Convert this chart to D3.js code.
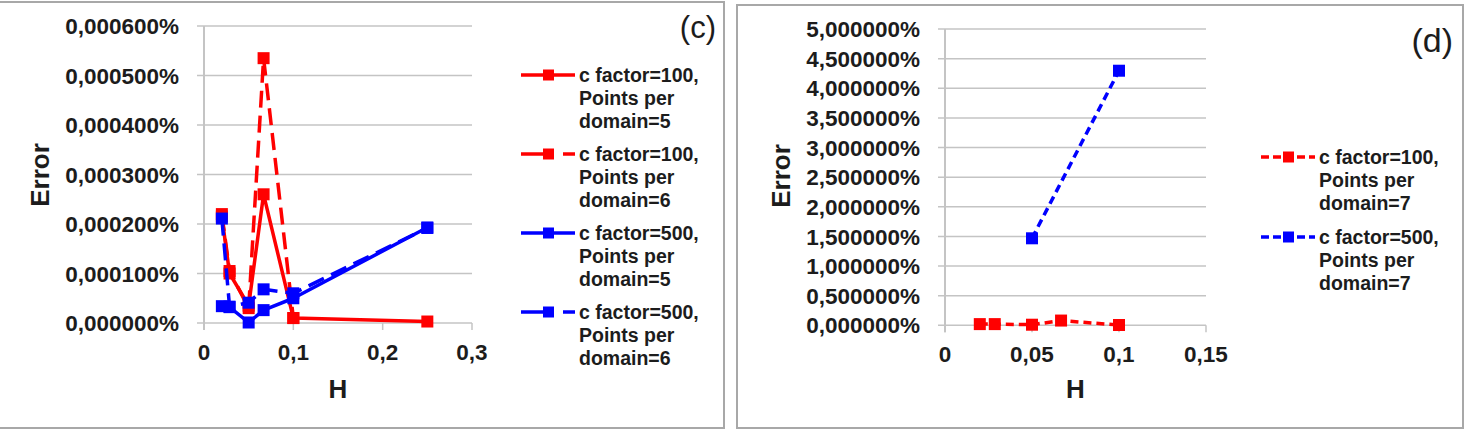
<!DOCTYPE html>
<html>
<head>
<meta charset="utf-8">
<script src="https://cdn.jsdelivr.net/npm/d3@7"></script>
<style>
  html, body { margin: 0; padding: 0; background: #fff; }
  svg { display: block; font-family: "Liberation Sans", Arial, sans-serif; }
</style>
</head>
<body>
<svg id="chart" width="1472" height="430"></svg>
<script>
// Panel (c): H values and error (%) per series
const hC = [0.02, 0.0286, 0.05, 0.0667, 0.1, 0.25];
const c100p5 = [0.000215, 0.0001, 0.000035, 0.00026, 0.00001, 0.000003];
const c100p6 = [0.00022, 0.000105, 0.00003, 0.000535, 0.00001, null];
const c500p5 = [0.000034, 0.000032, 0.000001, 0.000026, 0.00005, 0.000193];
const c500p6 = [0.000211, 0.000033, 0.000041, 0.000068, 0.00006, 0.000192];

// Panel (d)
const hD = [0.02, 0.0286, 0.05, 0.0667, 0.1];
const c100p7 = [0.02, 0.02, 0.01, 0.08, 0.005];
const c500p7 = [null, null, 1.468, null, 4.296];

// ticks
const cXTicks = [0, 0.1, 0.2, 0.3];
const cYTicks = [0, 0.0001, 0.0002, 0.0003, 0.0004, 0.0005, 0.0006];
const dXTicks = [0, 0.05, 0.1, 0.15];
const dYTicks = [0, 0.5, 1, 1.5, 2, 2.5, 3, 3.5, 4, 4.5, 5];

const legendC = [
  ["c factor=100,", "Points per", "domain=5"],
  ["c factor=100,", "Points per", "domain=6"],
  ["c factor=500,", "Points per", "domain=5"],
  ["c factor=500,", "Points per", "domain=6"]
];
const legendD = [
  ["c factor=100,", "Points per", "domain=7"],
  ["c factor=500,", "Points per", "domain=7"]
];

const RED = "#ff0000", BLUE = "#0000ff", GRID = "#c4c4c4", TXT = "#1c1c1c";
const svg = d3.select("#chart");

// panel frames
svg.append("rect").attr("x", -4).attr("y", 2).attr("width", 728).attr("height", 426)
  .attr("fill", "none").attr("stroke", "#a8a8a8").attr("stroke-width", 2);
svg.append("rect").attr("x", 737).attr("y", 5).attr("width", 726).attr("height", 423)
  .attr("fill", "none").attr("stroke", "#a8a8a8").attr("stroke-width", 2);

const fmtY = d => d.toFixed(6).replace(".", ",") + "%";
const fmtX = d => String(+d.toFixed(3)).replace(".", ",");

function drawPanel(p) {
  const x = d3.scaleLinear().domain(p.xDomain).range(p.xRange);
  const y = d3.scaleLinear().domain(p.yDomain).range(p.yRange);
  const g = svg.append("g");

  // gridlines
  g.selectAll(null).data(p.yTicks).enter().append("line")
    .attr("x1", p.xRange[0] - 7).attr("x2", p.xRange[1])
    .attr("y1", d => y(d)).attr("y2", d => y(d))
    .attr("stroke", GRID).attr("stroke-width", 1.5);
  // axes
  g.append("line").attr("x1", x(0)).attr("x2", x(0))
    .attr("y1", y(p.yDomain[1])).attr("y2", y(0) + 7)
    .attr("stroke", GRID).attr("stroke-width", 2);
  g.selectAll(null).data(p.xTicks).enter().append("line")
    .attr("x1", d => x(d)).attr("x2", d => x(d))
    .attr("y1", y(0)).attr("y2", y(0) + 7)
    .attr("stroke", GRID).attr("stroke-width", 1.5);

  // tick labels
  g.selectAll(null).data(p.yTicks).enter().append("text")
    .attr("x", p.xRange[0] - 25).attr("y", d => y(d)).attr("dy", "0.36em")
    .attr("text-anchor", "end")
    .style("font-size", "22.5px").style("font-weight", "bold").style("fill", TXT)
    .text(fmtY);
  g.selectAll(null).data(p.xTicks).enter().append("text")
    .attr("x", d => x(d)).attr("y", y(0) + 37)
    .attr("text-anchor", "middle")
    .style("font-size", "22.5px").style("font-weight", "bold").style("fill", TXT)
    .text(fmtX);

  // axis titles
  g.append("text")
    .attr("transform", `translate(${p.xRange[0] - 155},${p.titleY}) rotate(-90)`)
    .attr("text-anchor", "middle")
    .style("font-size", "26px").style("font-weight", "bold").style("fill", TXT)
    .text("Error");
  g.append("text")
    .attr("x", (p.xRange[0] + p.xRange[1]) / 2).attr("y", 398)
    .attr("text-anchor", "middle")
    .style("font-size", "26px").style("font-weight", "bold").style("fill", TXT)
    .text("H");

  // panel tag
  g.append("text").attr("x", p.tag.x).attr("y", p.tag.y)
    .attr("text-anchor", "end")
    .style("font-size", p.tag.size + "px").style("fill", TXT)
    .text(p.tag.text);

  // series
  const line = d3.line().x(d => x(d[0])).y(d => y(d[1]));
  p.series.forEach(s => {
    const valid = s.hs.map((h, i) => [h, s.vals[i]]).filter(d => d[1] != null);
    g.append("path").datum(valid).attr("d", line)
      .attr("fill", "none").attr("stroke", s.color).attr("stroke-width", s.width)
      .attr("stroke-dasharray", s.dash).attr("stroke-linejoin", "round");
    g.selectAll(null).data(valid).enter().append("rect")
      .attr("x", d => x(d[0]) - 6).attr("y", d => y(d[1]) - 6)
      .attr("width", 12).attr("height", 12).attr("fill", s.color);
  });

  // legend
  p.series.forEach((s, i) => {
    const ly = p.legend.y + i * p.legend.step;
    const lx = p.legend.x;
    g.append("line").attr("x1", lx).attr("x2", lx + 54).attr("y1", ly).attr("y2", ly)
      .attr("stroke", s.color).attr("stroke-width", s.width)
      .attr("stroke-dasharray", s.legendDash);
    g.append("rect").attr("x", lx + 22).attr("y", ly - 5.5).attr("width", 11).attr("height", 11)
      .attr("fill", s.color);
    g.selectAll(null).data(s.label).enter().append("text")
      .attr("x", lx + 58).attr("y", (d, k) => ly + k * 23).attr("dy", "0.36em")
      .style("font-size", "19.5px").style("font-weight", "bold").style("fill", TXT)
      .text(d => d);
  });
}

drawPanel({
  xDomain: [0, 0.3], xRange: [204, 472],
  yDomain: [0, 0.0006], yRange: [323, 26],
  xTicks: cXTicks, yTicks: cYTicks, titleY: 175,
  tag: { text: "(c)", x: 716, y: 38, size: 31 },
  legend: { x: 521, y: 75, step: 79 },
  series: [
    { hs: hC, vals: c100p5, color: RED, width: 3.5, dash: null, legendDash: null, label: legendC[0] },
    { hs: hC, vals: c100p6, color: RED, width: 3.5, dash: "17,8", legendDash: "32,10,14", label: legendC[1] },
    { hs: hC, vals: c500p5, color: BLUE, width: 3.5, dash: null, legendDash: null, label: legendC[2] },
    { hs: hC, vals: c500p6, color: BLUE, width: 3.5, dash: "17,8", legendDash: "32,10,14", label: legendC[3] }
  ]
});

drawPanel({
  xDomain: [0, 0.15], xRange: [945, 1206],
  yDomain: [0, 5], yRange: [325.3, 29],
  xTicks: dXTicks, yTicks: dYTicks, titleY: 176,
  tag: { text: "(d)", x: 1453, y: 52, size: 34 },
  legend: { x: 1261, y: 157, step: 80 },
  series: [
    { hs: hD, vals: c100p7, color: RED, width: 3.5, dash: "8,5", legendDash: "8,4", label: legendD[0] },
    { hs: hD, vals: c500p7, color: BLUE, width: 3.5, dash: "8,5", legendDash: "8,4", label: legendD[1] }
  ]
});
</script>
</body>
</html>
